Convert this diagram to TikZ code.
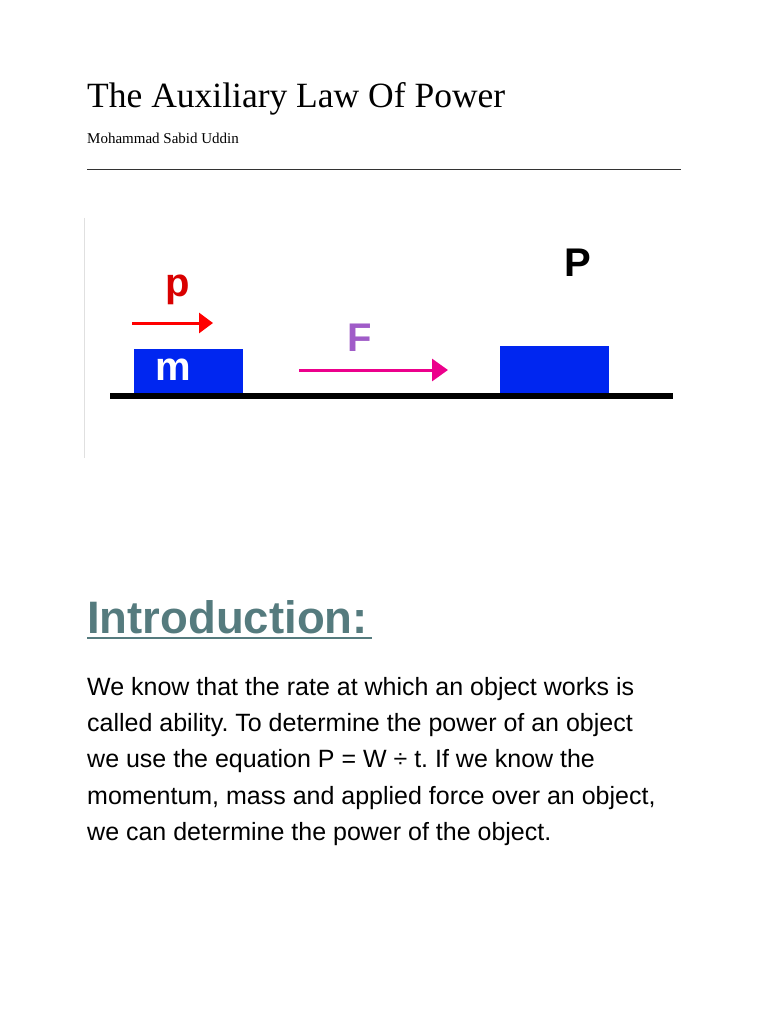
\documentclass[tikz,border=0pt]{standalone}
\usepackage{fontspec}
\setmainfont{Liberation Serif}
\newfontfamily\sansf{Liberation Sans}
\usetikzlibrary{arrows.meta}
\definecolor{blueb}{HTML}{0026F0}
\definecolor{introc}{HTML}{557B7E}
\definecolor{fpurple}{HTML}{A05CC8}
\tikzset{
  blk/.style={fill=blueb,draw=none},
  lbl/.style={font=\sansf\bfseries\fontsize{40}{40}\selectfont,inner sep=0pt},
  para/.style={font=\sansf\frenchspacing\fontsize{25}{36}\selectfont,anchor=base west,inner sep=0pt}
}
\begin{document}
\begin{tikzpicture}[x=1pt,y=-1pt]
\useasboundingbox[fill=white] (0,0) rectangle (768,1024);
\node[anchor=base west,inner sep=0pt,font=\fontsize{35.5}{35.5}\selectfont] (title) at (87,108) {The Auxiliary Law Of Power};
\node[anchor=base west,inner sep=0pt,font=\fontsize{15}{15}\selectfont] (author) at (87,144) {Mohammad Sabid Uddin};
\draw[line width=0.8pt,black!80] (87,169) -- (681,169);
% figure
\draw[black!12,line width=1pt] (84,218) -- (84,458);
\draw[line width=5.5pt] (110,396) -- (673,396);
\fill[blk] (134,349) rectangle (243,393);
\node[lbl,text=white] (m) at (173,370) {m};
\fill[blk] (500,346) rectangle (609,393);
\draw[red,line width=3pt,-{Triangle[length=14pt,width=20pt]}] (132,323) -- (213,323);
\node[lbl,text=red!85!black] (p) at (178,290) {p};
\draw[magenta,line width=3pt,-{Triangle[length=16pt,width=22pt]}] (299,370) -- (448,370);
\node[lbl,text=fpurple] (F) at (360,338) {F};
\node[lbl] (P) at (578,263) {P};
% text
\node[anchor=base west,inner sep=0pt,font=\sansf\bfseries\fontsize{45.5}{45.5}\selectfont,text=introc] (intro) at (87,633) {Introduction:};
\draw[introc,line width=2.5pt] (87,638) -- (372,638);
\node[para] (l1) at (87,695) {We know that the rate at which an object works is};
\node[para] (l2) at (87,731) {called ability. To determine the power of an object};
\node[para] (l3) at (87,767) {we use the equation P = W ÷ t. If we know the};
\node[para] (l4) at (87,804) {momentum, mass and applied force over an object,};
\node[para] (l5) at (87,840) {we can determine the power of the object.};
\end{tikzpicture}
\end{document}
